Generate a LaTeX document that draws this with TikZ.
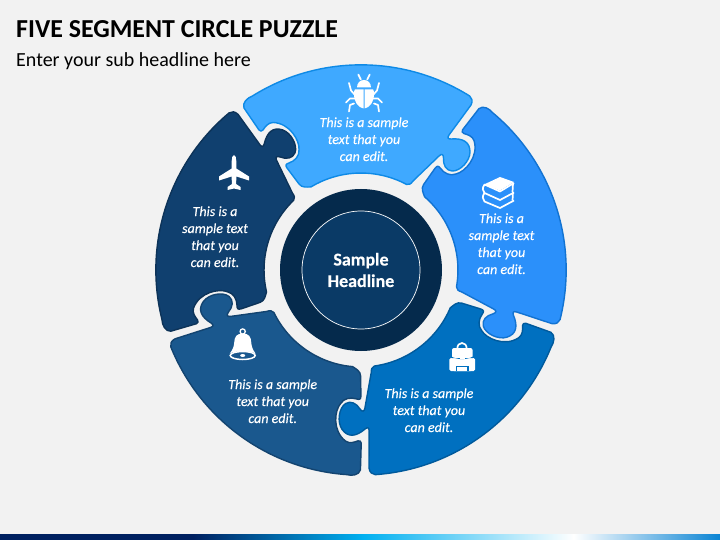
\documentclass[tikz,border=0pt]{standalone}
\usepackage{fontspec}
\setmainfont{Carlito}
\newfontface\labfont{Carlito Italic}[FakeBold=0.2]
\newfontface\hubfont{Carlito Bold}[FakeBold=0.3]
\newcommand{\segpath}{(252.4,-96) arc[start angle=122,end angle=58,radius=205]
 .. controls (472,-98) and (473,-101) .. (471,-105)
 -- (449,-135)
 .. controls (447,-138) and (448,-139) .. (451,-139)
 .. controls (463,-138) and (470,-142) .. (470,-152)
 .. controls (470,-161) and (460,-171.5) .. (452,-171)
 .. controls (446,-170.5) and (443,-165) .. (443.5,-158)
 .. controls (443.5,-154) and (441.5,-153.5) .. (439,-156)
 -- (413,-181)
 .. controls (411,-184) and (409,-185) .. (406.5,-184.4)
 arc[start angle=62,end angle=121,radius=97]
 .. controls (307,-187) and (302,-188) .. (299,-184)
 -- (287,-168)
 .. controls (285,-165) and (286,-164) .. (289,-163)
 .. controls (295,-161) and (299.5,-156) .. (299,-150)
 .. controls (300,-141) and (290,-123) .. (273,-122.5)
 .. controls (268,-122.5) and (265,-127) .. (263,-130)
 .. controls (262,-132) and (260,-131) .. (259,-130)
 -- (244,-108)
 .. controls (242,-103) and (247,-98) .. (252.4,-96) -- cycle}
\definecolor{bgc}{HTML}{F2F2F2}
\definecolor{segA}{HTML}{3FA9FF}\definecolor{edgeA}{HTML}{0E8AE6}
\definecolor{segB}{HTML}{2B90FA}\definecolor{edgeB}{HTML}{1273D2}
\definecolor{segC}{HTML}{0070C0}\definecolor{edgeC}{HTML}{005A9C}
\definecolor{segD}{HTML}{1A588E}\definecolor{edgeD}{HTML}{134470}
\definecolor{segE}{HTML}{10406F}\definecolor{edgeE}{HTML}{0D3358}
\definecolor{hubout}{HTML}{052A4C}\definecolor{hubin}{HTML}{0A3A66}
\definecolor{barA}{HTML}{002060}\definecolor{barB}{HTML}{00B0F0}\definecolor{barC}{HTML}{0A84D4}
\tikzset{
 piece/.style={line width=1.4pt,line join=round},
 label/.style={text=white,align=center,font=\fontsize{14}{17}\selectfont\labfont,inner sep=0pt},
 iconline/.style={draw=white,line width=1.7pt,line cap=round,line join=round},
 iconfill/.style={fill=white,draw=none},
}
\begin{document}
\begin{tikzpicture}[x=1pt,y=1pt]
\useasboundingbox (0,0) rectangle (720,-540);
\fill[bgc] (0,0) rectangle (720,-540);
% bottom bar
\fill[barA] (0,-534) rectangle (193,-540);
\shade[left color=barA,right color=barB,draw=none] (192.5,-534) rectangle (363,-540);
\shade[left color=barB,right color=white,draw=none] (362.5,-534) rectangle (574,-540);
\shade[left color=white,right color=barC,draw=none] (573.5,-534) rectangle (720,-540);
% title
\node[anchor=base west,inner sep=0pt,font=\fontsize{25.9}{30}\selectfont\bfseries,text=black] (title) at (16,-37.5) {FIVE SEGMENT CIRCLE PUZZLE};
\node[anchor=base west,inner sep=0pt,font=\fontsize{20}{24}\selectfont,text=black] (subtitle) at (16,-67) {Enter your sub headline here};
% pieces
\draw[piece,fill=segA,draw=edgeA] \segpath;
\begin{scope}[rotate around={-72:(361,-270)}]\draw[piece,fill=segB,draw=edgeB] \segpath;\end{scope}
\begin{scope}[rotate around={-144:(361,-270)}]\draw[piece,fill=segC,draw=edgeC] \segpath;\end{scope}
\begin{scope}[rotate around={-216:(361,-270)}]\draw[piece,fill=segD,draw=edgeD] \segpath;\end{scope}
\begin{scope}[rotate around={-288:(361,-270)}]\draw[piece,fill=segE,draw=edgeE] \segpath;\end{scope}
% hub
\node[circle,fill=hubout,minimum size=162pt,inner sep=0pt] (hubo) at (361,-270) {};
\node[circle,fill=hubin,draw=white,line width=0.7pt,minimum size=118pt,inner sep=0pt,text=white,align=center,font=\fontsize{18}{21.5}\selectfont\hubfont] (hubi) at (361,-270) {Sample\\Headline};
% labels
\node[label] (ta) at (364,-139.2) {This is a sample\\text that you\\can edit.};
\node[label] (tb) at (501.5,-243.7) {This is a\\sample text\\that you\\can edit.};
\node[label] (tc) at (429,-410.2) {This is a sample\\text that you\\can edit.};
\node[label] (td) at (272.7,-401.2) {This is a sample\\text that you\\can edit.};
\node[label] (te) at (215,-236.7) {This is a\\sample text\\that you\\can edit.};
% bug icon
\begin{scope}[shift={(364,0)}]
 \foreach \s in {1,-1}{
  \begin{scope}[xscale=\s]
  \draw[iconline] (5.7,-74.5) -- (3.2,-79.5);
  \draw[iconline] (15,-83) -- (13,-90.5) -- (9,-95);
  \draw[iconline] (9.5,-98.5) -- (14,-98.5) -- (18,-102.5);
  \draw[iconline] (10,-103.5) -- (14,-105) -- (15,-111.5);
  \end{scope}}
 \fill[white] (-7,-87.5) .. controls (-7,-83) and (-4,-80) .. (0,-80) .. controls (4,-80) and (7,-83) .. (7,-87.5) -- cycle;
 \fill[white] (-9,-89.3) -- (-0.5,-89.3) -- (-0.5,-108.5) .. controls (-6,-107.5) and (-10,-102) .. (-10,-94) .. controls (-10,-92) and (-10,-90.5) .. (-9,-89.3) -- cycle;
 \fill[white] (9,-89.3) -- (0.5,-89.3) -- (0.5,-108.5) .. controls (6,-107.5) and (10,-102) .. (10,-94) .. controls (10,-92) and (10,-90.5) .. (9,-89.3) -- cycle;
\end{scope}
% books icon
\fill[white] (484,-184.5) -- (500,-177) -- (514,-182) -- (500,-190.5) -- cycle;
\draw[white,line width=1.7pt,line join=round] (514,-183) -- (500,-191.5) -- (484.5,-184.5) .. controls (482,-188) and (482.5,-191) .. (484.5,-193) -- (500,-200) -- (514,-192.5);
\draw[white,line width=1.7pt,line join=round] (484.5,-193) .. controls (482,-196) and (482.5,-199.5) .. (484.5,-201.5) -- (500,-208) -- (514,-200.5);
\draw[white,line width=1.7pt,line join=round] (513,-183.5) -- (512.5,-192);
\draw[white,line width=1.7pt,line join=round] (513,-192) -- (512.5,-200.5);
% backpack icon
\draw[white,line width=1.7pt] (457.3,-349) .. controls (457,-341) and (467,-341) .. (466.7,-349);
\fill[white,rounded corners=2pt] (452,-348) rectangle (472.5,-371);
\fill[white,rounded corners=1.5pt] (449.3,-358) rectangle (475,-371);
\fill[segC] (451.5,-358) -- (473,-358) -- (473,-356.5) .. controls (467,-360) and (457,-360) .. (451.5,-356.5) -- cycle;
\fill[white] (459.5,-353) rectangle (464.5,-358.5);
\fill[segC] (455.5,-366) rectangle (468.5,-371.2);
\fill[white] (457,-367.2) rectangle (467,-371);
% bell icon
\draw[white,line width=1.3pt] (242.7,-331.5) circle (2.6);
\fill[white] (242.7,-333.5) .. controls (236.5,-333.5) and (234.5,-337) .. (234.3,-342) .. controls (234,-347) and (232.5,-350) .. (229.8,-353.5) .. controls (235,-350.5) and (250,-350.5) .. (255.5,-353.5) .. controls (253,-350) and (251.5,-347) .. (251.2,-342) .. controls (251,-337) and (249,-333.5) .. (242.7,-333.5) -- cycle;
\draw[white,line width=1.5pt] (242.7,-355.5) ellipse (12.5 and 4);
\fill[white] (242.7,-355.5) ellipse (2.5 and 1.5);
% plane icon
\fill[white] (234,-155) .. controls (232.5,-155) and (231.7,-158) .. (231.7,-161) -- (231.7,-168.5) -- (219,-176.5) -- (219,-180.5) -- (231.5,-176.5) -- (232,-184) -- (227.5,-187) -- (227.5,-190) -- (234,-188.5) -- (240.5,-190) -- (240.5,-187) -- (236,-184) -- (236.5,-176.5) -- (249,-180.5) -- (249,-176.5) -- (236.3,-168.5) -- (236.3,-161) .. controls (236.3,-158) and (235.5,-155) .. (234,-155) -- cycle;
\end{tikzpicture}
\end{document}
